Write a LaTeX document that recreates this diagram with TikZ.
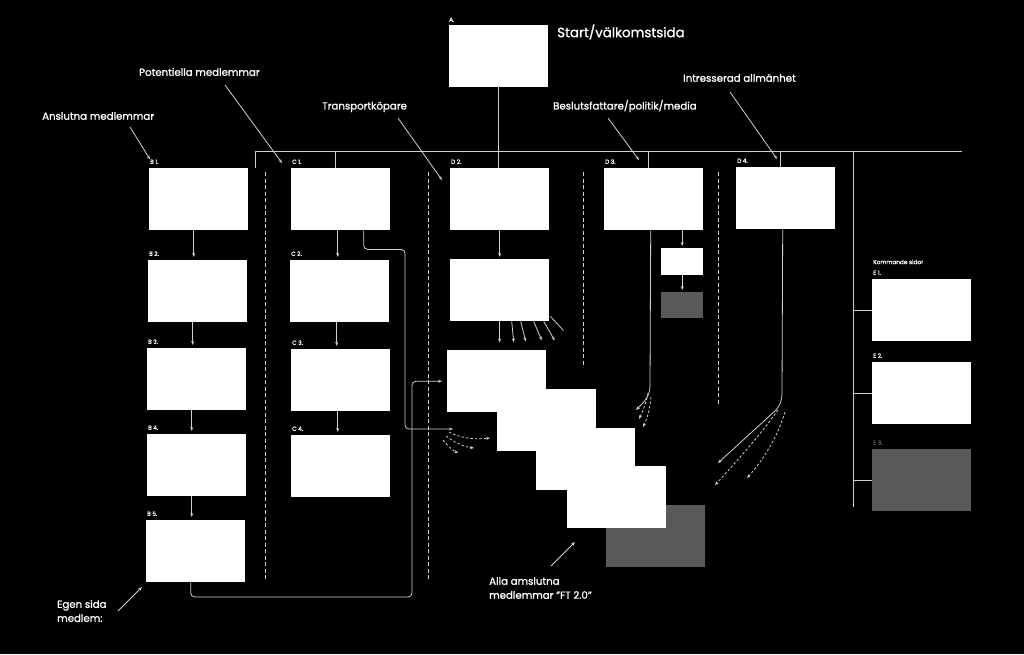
\documentclass[tikz,border=0pt]{standalone}
\usepackage{fontspec}
\setmainfont{Poppins}[FakeBold=1.2]
\usetikzlibrary{arrows.meta,calc,positioning}
\definecolor{linec}{HTML}{D0D0D0}
\definecolor{shade}{HTML}{5A5A5A}

\begin{document}
\begin{tikzpicture}[x=1pt,y=-1pt,
  page/.style={fill=white,inner sep=0pt,minimum width=99pt,minimum height=62pt,anchor=north west},
  greypage/.style={page,fill=shade},
  tag/.style={text=white,inner sep=0pt,font=\fontsize{5.8}{6}\selectfont},
  audience/.style={text=white,inner sep=0pt,anchor=west,align=left,font=\fontsize{10.2}{14}\selectfont},
  link/.style={draw=linec,line width=0.8pt},
  arr/.style={link,-{Stealth[length=4pt,width=3pt]}},
  darr/.style={arr,dash pattern=on 2.5pt off 2pt},
  divider/.style={draw=linec,line width=0.9pt,dash pattern=on 4pt off 2.5pt}]

  \fill[black] (0,0) rectangle (1024,654);
  \useasboundingbox (0,0) rectangle (1024,654);

  % start page
  \node[page] (a) at (449,25) {};
  \node[tag,above right=3pt and 0pt of a.north west] (at) {A.};
  \node[audience,font=\fontsize{13.4}{16}\selectfont] (start) at (557,32) {Start/välkomstsida};

  % member columns
  \node[page] (b1) at (149,168) {};
  \node[page] (b2) at (148,260) {};
  \node[page] (b3) at (147,348) {};
  \node[page] (b4) at (147,434) {};
  \node[page] (b5) at (146,520) {};
  \node[page] (c1) at (291,168) {};
  \node[page] (c2) at (290,260) {};
  \node[page] (c3) at (291,349) {};
  \node[page] (c4) at (291,435) {};
  \foreach \p/\t in {b1/B 1.,b2/B 2.,b3/B 3.,b4/B 4.,b5/B 5.,c1/C 1.,c2/C 2.,c3/C 3.,c4/C 4.}
    \node[tag,above right=4pt and 1pt of \p.north west] (\p t) {\t};

  % target groups
  \node[page] (d2) at (450,168) {};
  \node[page] (d2b) at (450,259) {};
  \node[page] (d3) at (604,168) {};
  \node[page,minimum width=42pt,minimum height=27pt] (d3a) at (661,248) {};
  \node[greypage,minimum width=42pt,minimum height=26pt] (d3b) at (661,292) {};
  \node[page] (d4) at (736,167) {};
  \foreach \p/\t in {d2/D 2.,d3/D 3.,d4/D 4.}
    \node[tag,above right=4pt and 1pt of \p.north west] (\p t) {\t};

  % FT 2.0 pages
  \node[greypage] (ftg) at (606,505) {};
  \node[page] (w1) at (447,350) {};
  \node[page] (w2) at (497,389) {};
  \node[page] (w3) at (536,428) {};
  \node[page] (w4) at (567,466) {};

  % coming pages
  \node[page] (e1) at (872,279) {};
  \node[page] (e2) at (872,362) {};
  \node[greypage] (e3) at (872,449) {};
  \node[tag,above right=4pt and 1pt of e1.north west] (e1t) {E 1.};
  \node[tag,above right=4pt and 1pt of e2.north west] (e2t) {E 2.};
  \node[tag,text=shade,above right=4pt and 1pt of e3.north west] (e3t) {E 3.};
  \node[tag,above right=6pt and 0pt of e1t.north west] (soon) {Kommande sidor};

  % bus
  \coordinate (bw) at (255,151);
  \coordinate (be) at (962,151);
  \coordinate (es) at (853,507);
  \draw[link] (bw) -- (be);
  \draw[link] (bw) -- ++(0,17);
  \draw[link] (a.south) -- (a.south |- d2.north);
  \foreach \p in {c1,d3,d4}
    \draw[link] ([xshift=-5pt]\p.north) -- ([xshift=-5pt]\p.north |- bw);
  \draw[link] (es |- bw) -- (es);
  \foreach \p in {e1,e2,e3}
    \draw[link] (\p.west) -- (\p.west -| es);

  % separators
  \draw[divider] (265,172) -- (265,580);
  \draw[divider] (428,172) -- (428,580);
  \draw[divider] (583,172) -- (583,367);
  \draw[divider] (718,172) -- (718,405);

  % page flow
  \foreach \u/\v in {b1/b2,b2/b3,b3/b4,b4/b5}
    \draw[arr,shorten >=3pt] ([xshift=-5pt]\u.south) -- ([xshift=-5pt]\u.south |- \v.north);
  \foreach \u/\v in {c1/c2,c2/c3,c3/c4}
    \draw[arr,shorten >=3pt] ([xshift=-3pt]\u.south) -- ([xshift=-3pt]\u.south |- \v.north);
  \draw[arr,shorten >=2pt] (d2.south) -- (d2.south |- d2b.north);
  \draw[arr,shorten >=2pt] (d3.south -| d3a.north) -- (d3a.north);
  \draw[arr,shorten >=2pt] (d3a.south) -- (d3b.north);

  \foreach \s/\dx/\dy in {0/0/21,12/2/21,21/5/20,34/8/19,44/11/19}
    \draw[arr] ([xshift=\s pt]d2b.south) -- ++(\dx,\dy);
  \draw[link] ([xshift=1pt,yshift=5pt]d2b.south east) -- ++(13,14);

  \coordinate (ctip) at (453,429);
  \draw[arr,rounded corners=4pt] ([xshift=23pt]c1.south) -- ++(0,19) -| (405,300) |- (ctip);
  \draw[darr] (449,432) .. controls (460,438) and (475,440) .. (490,438);
  \draw[darr] (446,436) .. controls (455,443) and (465,447) .. (474,448);
  \draw[darr] (443,440) .. controls (448,446) and (452,450) .. (458,453);

  \draw[arr,rounded corners=4pt,shorten >=5pt] ([xshift=-5pt]b5.south) |- (412,597) |- (w1.west);

  \draw[arr] ([xshift=-3pt]d3.south) -- (650,385) .. controls (650,396) and (645,401) .. (636,410);
  \draw[darr] (648,393) .. controls (646,403) and (643,411) .. (639,419);
  \draw[darr] (651,397) .. controls (650,409) and (647,419) .. (643,427);

  \draw[arr] ([xshift=-3pt]d4.south) -- (782,392) .. controls (782,401) and (780,405) .. (776,410) -- (718,463);
  \draw[darr] (778,410) .. controls (760,435) and (738,460) .. (715,485);
  \draw[darr] (785,412) .. controls (778,435) and (765,458) .. (747,478);

  % audience labels
  \node[audience] (anslutna) at (42,116) {Anslutna medlemmar};
  \node[audience] (potentiella) at (139,72) {Potentiella medlemmar};
  \node[audience] (transport) at (322,107) {Transportköpare};
  \node[audience] (beslut) at (553,106) {Beslutsfattare/politik/media};
  \node[audience] (allman) at (683,78) {Intresserad allmänhet};
  \node[audience] (egen) at (57,611) {Egen sida\\medlem:};
  \node[audience] (alla) at (489,588) {Alla amslutna\\medlemmar ”FT 2.0”};

  \draw[arr] (130,127) -- (b1t.north west);
  \draw[arr] (225,85) -- (282,163);
  \draw[arr] (398,118) -- (442,180);
  \draw[arr] (608,118) -- (639,160);
  \draw[arr] (730,92) -- (777,159);
  \draw[arr] (118,611) -- (142,587);
  \draw[arr] (551,566) -- (575,542);
\end{tikzpicture}
\end{document}
